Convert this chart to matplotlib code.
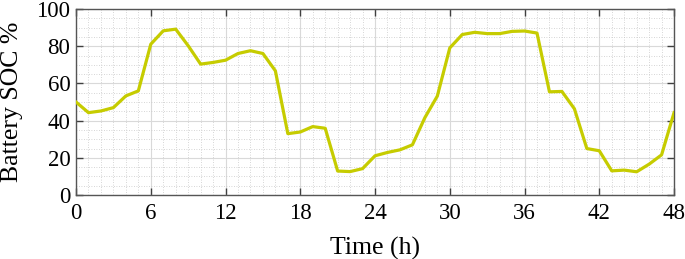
import matplotlib
matplotlib.use("Agg")
import matplotlib.pyplot as plt
from matplotlib.ticker import MultipleLocator

# hourly battery state of charge
hours = list(range(49))
soc = [
    50.0, 44.3, 45.2, 47.0, 53.3, 56.0, 81.1, 88.3, 89.2, 80.3,
    70.4, 71.3, 72.5, 76.1, 77.6, 76.1, 66.8, 33.0, 33.9, 36.8,
    35.9, 12.9, 12.6, 14.2, 21.1, 22.9, 24.3, 27.0, 41.6, 53.2,
    79.1, 86.3, 87.5, 86.8, 86.8, 88.0, 88.2, 87.1, 55.5, 55.7,
    46.4, 25.0, 23.8, 13.0, 13.4, 12.5, 16.6, 21.6, 44.3,
]
x_ticks = [0, 6, 12, 18, 24, 30, 36, 42, 48]
y_ticks = [0, 20, 40, 60, 80, 100]

plt.rcParams["font.family"] = ["Liberation Serif", "DejaVu Serif"]

fig = plt.figure(figsize=(6.85, 2.59), dpi=100)
ax = fig.add_axes([0.111, 0.247, 0.873, 0.718])

ax.plot(hours, soc, color="#c6cc00", linewidth=2.3, zorder=3)

ax.set_xlim(0, 48)
ax.set_ylim(0, 100)
ax.set_xticks(x_ticks)
ax.set_yticks(y_ticks)
ax.xaxis.set_minor_locator(MultipleLocator(1))
ax.yaxis.set_minor_locator(MultipleLocator(5))

ax.grid(True, which="major", color="#d9d9d9", linewidth=0.8, linestyle="-")
ax.grid(True, which="minor", color="#c8c8c8", linewidth=0.6, linestyle=(0, (1, 2)))
ax.set_axisbelow(True)

ax.tick_params(which="major", direction="in", length=5, width=1,
               top=True, right=True, labelsize=16.5, color="#404040")
ax.tick_params(axis="x", which="major", pad=6)
ax.tick_params(axis="y", which="major", pad=4)
ax.tick_params(which="minor", length=0, top=True, right=True)
for spine in ax.spines.values():
    spine.set_color("#555555")
    spine.set_linewidth(1)

ax.set_xlabel("Time (h)", fontsize=18.5, labelpad=9)
ax.set_ylabel("Battery SOC %", fontsize=18.5, labelpad=10)

fig.savefig("out.png", dpi=100)
plt.close(fig)
